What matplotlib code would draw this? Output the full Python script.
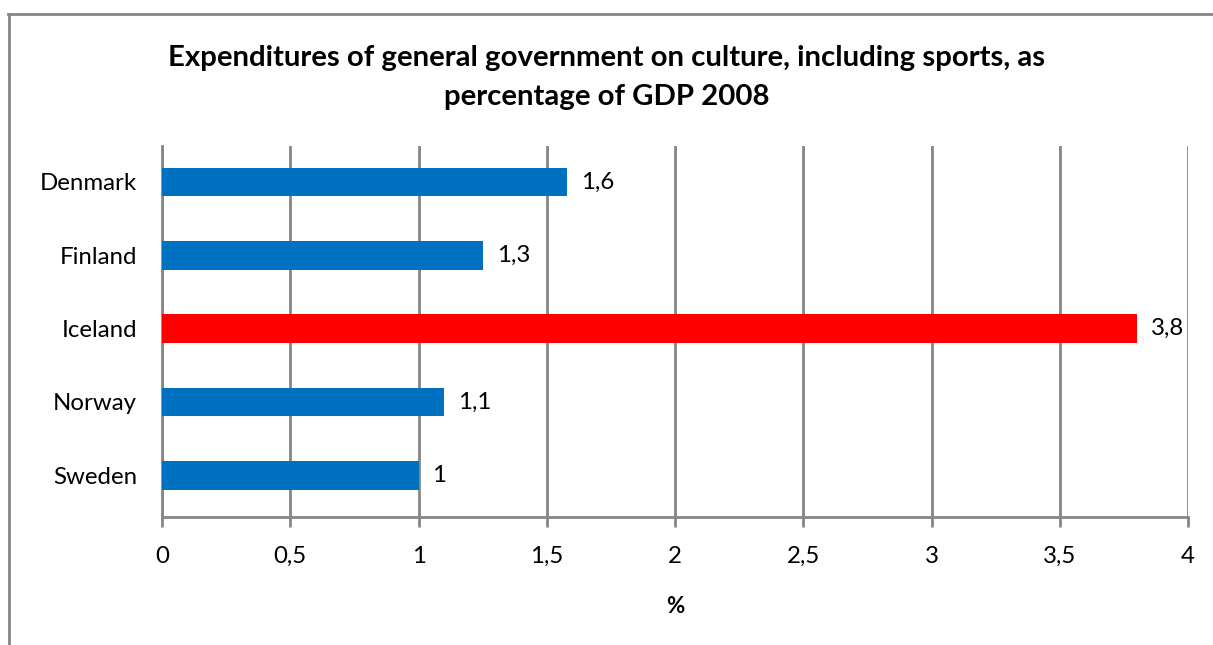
import matplotlib
matplotlib.use("Agg")
import matplotlib.pyplot as plt
from matplotlib.lines import Line2D

# values; labels as printed on the chart
countries = ["Denmark", "Finland", "Iceland", "Norway", "Sweden"]
values = [1.58, 1.25, 3.8, 1.1, 1.0]
value_labels = ["1,6", "1,3", "3,8", "1,1", "1"]
bar_colors = ["#0070C0", "#0070C0", "#FF0000", "#0070C0", "#0070C0"]
x_ticks = [0, 0.5, 1, 1.5, 2, 2.5, 3, 3.5, 4]
x_tick_labels = ["0", "0,5", "1", "1,5", "2", "2,5", "3", "3,5", "4"]

plt.rcParams["font.family"] = ["Lato", "DejaVu Sans"]
grey = "#868686"

fig = plt.figure(figsize=(12.13, 6.45), dpi=100)
ax = fig.add_axes([0.1336, 0.1984, 0.8458, 0.5752])

y_pos = list(range(len(countries)))
ax.barh(y_pos, values, height=0.39, color=bar_colors, zorder=3)
ax.set_ylim(4.57, -0.49)
ax.set_yticks(y_pos)
ax.set_yticklabels(countries, fontsize=17.3)
ax.tick_params(axis="y", length=0, pad=18)

ax.set_xlim(0, 4)
ax.set_xticks(x_ticks)
ax.set_xticklabels(x_tick_labels, fontsize=17.3)
ax.tick_params(axis="x", length=7, width=2, color=grey, pad=14)
ax.grid(axis="x", color=grey, linewidth=2, zorder=0)
ax.set_axisbelow(True)

for side in ["top", "right"]:
    ax.spines[side].set_visible(False)
for side in ["left", "bottom"]:
    ax.spines[side].set_color(grey)
    ax.spines[side].set_linewidth(2)

for y, v, lab in zip(y_pos, values, value_labels):
    ax.annotate(lab, (v, y), xytext=(10, 0), textcoords="offset points",
                va="center", ha="left", fontsize=17.3)

ax.set_xlabel("%", fontsize=16, fontweight="bold", labelpad=21)

fig.text(0.5, 0.88, "Expenditures of general government on culture, including sports, as\npercentage of GDP 2008",
         ha="center", va="center", fontsize=21.2, fontweight="bold", linespacing=1.6)

# outer chart border (cut by the image edge on the right and bottom)
fig.add_artist(Line2D([8.5 / 1213, 8.5 / 1213], [0, 631 / 645], color=grey, linewidth=2))
fig.add_artist(Line2D([8 / 1213, 1], [631 / 645, 631 / 645], color=grey, linewidth=2))

fig.savefig("out.png", dpi=100)
